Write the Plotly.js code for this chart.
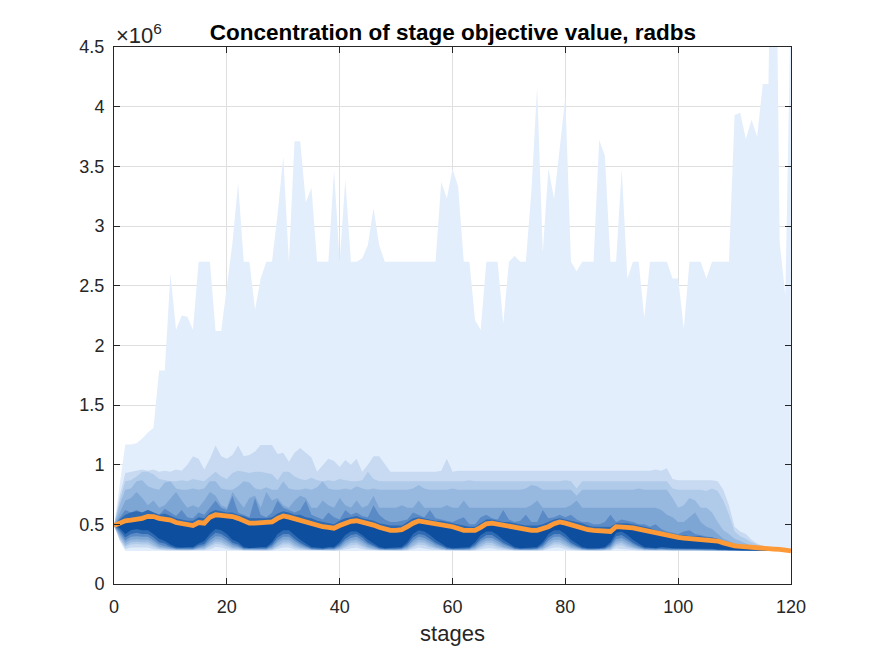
<!DOCTYPE html>
<html>
<head>
<meta charset="utf-8">
<script src="https://cdn.plot.ly/plotly-3.0.1.min.js"></script>
<style>
  html, body { margin: 0; padding: 0; background: #ffffff; }
  #chart { width: 875px; height: 656px; }
</style>
</head>
<body>
<div id="chart"></div>
<script>
// Stage index 0..120
const stages = Array.from({ length: 121 }, (_, i) => i);

// Objective value quantile envelopes (units of 1e6), outermost first.
const qMax = [0.49,0.85,1.17,1.17,1.18,1.22,1.27,1.31,1.79,1.79,
  2.60,2.13,2.25,2.24,2.13,2.70,2.70,2.70,2.12,2.12,
  2.49,2.86,3.36,2.70,2.70,2.30,2.56,2.70,2.70,3.10,
  3.58,2.70,3.71,3.71,3.20,3.32,2.70,2.70,2.70,3.47,
  2.70,3.39,2.70,2.70,2.73,2.84,3.15,2.84,2.70,2.70,
  2.70,2.70,2.70,2.70,2.70,2.70,2.70,2.70,3.37,3.23,
  3.48,3.33,2.70,2.70,2.21,2.13,2.70,2.70,2.70,2.18,
  2.70,2.75,2.70,2.70,3.30,4.17,2.78,3.48,3.23,3.65,
  4.08,2.70,2.62,2.70,2.70,2.70,3.72,3.59,2.70,2.70,
  3.48,2.56,2.70,2.70,2.23,2.70,2.70,2.70,2.70,2.56,
  2.56,2.14,2.70,2.70,2.70,2.56,2.70,2.70,2.70,2.70,
  3.93,3.95,3.73,3.89,3.75,4.19,4.19,7.00,2.86,2.42,5.00];

const qU2 = [0.49,0.74,0.93,0.94,0.95,0.96,0.95,0.96,0.94,0.95,
  0.94,0.96,0.95,1.00,1.07,1.05,0.96,1.05,1.16,1.07,
  1.05,1.08,1.16,1.07,1.08,1.11,1.165,1.165,1.165,1.09,
  1.10,1.025,1.10,1.14,1.10,1.06,0.94,1.00,1.05,1.03,
  0.98,1.04,1.00,1.05,0.94,1.00,1.07,1.07,1.00,0.94,
  0.94,0.94,0.94,0.94,0.94,0.94,0.94,0.94,0.95,1.05,
  0.94,0.95,0.95,0.95,0.95,0.95,0.95,0.95,0.95,0.95,
  0.95,0.95,0.95,0.95,0.95,0.95,0.95,0.95,0.95,0.95,
  0.95,0.95,0.95,0.95,0.95,0.95,0.95,0.95,0.95,0.95,
  0.95,0.95,0.95,0.95,0.95,0.95,0.96,0.95,0.97,0.88,
  0.87,0.87,0.87,0.87,0.87,0.87,0.87,0.86,0.79,0.66,
  0.48,0.44,0.42,0.37,0.34,0.32,0.31,0.30,0.29,0.285,0.278];

const qU3 = [0.49,0.70,0.86,0.87,0.90,0.94,0.94,0.92,0.88,0.87,
  0.86,0.86,0.87,0.86,0.88,0.87,0.86,0.90,0.94,0.90,
  0.88,0.93,0.95,0.94,0.93,0.94,0.94,0.93,0.92,0.87,
  0.94,0.94,0.90,0.88,0.87,0.89,0.87,0.86,0.87,0.86,
  0.88,0.87,0.86,0.86,0.87,0.94,0.88,0.86,0.86,0.86,
  0.86,0.86,0.86,0.86,0.86,0.86,0.86,0.86,0.86,0.86,
  0.86,0.86,0.86,0.87,0.86,0.86,0.86,0.86,0.86,0.86,
  0.86,0.86,0.86,0.86,0.86,0.86,0.86,0.86,0.86,0.86,
  0.87,0.86,0.80,0.86,0.86,0.86,0.86,0.86,0.86,0.86,
  0.86,0.86,0.86,0.86,0.86,0.86,0.86,0.86,0.86,0.80,
  0.79,0.79,0.79,0.79,0.79,0.78,0.80,0.78,0.70,0.58,
  0.44,0.40,0.38,0.35,0.33,0.31,0.30,0.295,0.29,0.283,0.278];

const qU4 = [0.49,0.66,0.79,0.80,0.86,0.87,0.82,0.80,0.79,0.85,
  0.86,0.80,0.79,0.79,0.80,0.79,0.80,0.86,0.86,0.80,
  0.79,0.79,0.82,0.86,0.85,0.80,0.79,0.81,0.79,0.79,
  0.86,0.80,0.79,0.79,0.80,0.79,0.81,0.86,0.80,0.79,
  0.79,0.80,0.79,0.82,0.80,0.79,0.80,0.79,0.79,0.79,
  0.79,0.79,0.79,0.80,0.83,0.80,0.79,0.79,0.79,0.79,
  0.80,0.79,0.79,0.79,0.79,0.79,0.79,0.79,0.79,0.79,
  0.79,0.79,0.79,0.80,0.83,0.82,0.79,0.79,0.79,0.79,
  0.79,0.79,0.74,0.79,0.79,0.79,0.79,0.79,0.79,0.79,
  0.79,0.79,0.79,0.80,0.79,0.79,0.79,0.79,0.79,0.72,
  0.64,0.66,0.72,0.70,0.64,0.64,0.60,0.52,0.45,0.42,
  0.38,0.36,0.34,0.32,0.31,0.30,0.29,0.288,0.285,0.28,0.277];

const qU5 = [0.49,0.60,0.70,0.72,0.77,0.72,0.66,0.70,0.64,0.66,
  0.72,0.77,0.70,0.64,0.66,0.64,0.70,0.77,0.74,0.66,
  0.64,0.77,0.70,0.64,0.72,0.74,0.64,0.77,0.70,0.72,
  0.66,0.64,0.70,0.74,0.72,0.64,0.64,0.70,0.66,0.64,
  0.72,0.66,0.64,0.70,0.64,0.66,0.74,0.64,0.64,0.64,
  0.64,0.66,0.64,0.64,0.70,0.64,0.64,0.64,0.64,0.66,
  0.64,0.64,0.70,0.64,0.64,0.64,0.64,0.64,0.64,0.64,
  0.64,0.64,0.64,0.64,0.66,0.70,0.64,0.64,0.64,0.64,
  0.64,0.66,0.70,0.64,0.64,0.64,0.64,0.64,0.64,0.64,
  0.64,0.64,0.64,0.64,0.64,0.64,0.64,0.62,0.58,0.56,
  0.52,0.52,0.56,0.60,0.52,0.48,0.46,0.42,0.38,0.36,
  0.34,0.33,0.32,0.31,0.30,0.295,0.29,0.285,0.282,0.28,0.277];

const qU6 = [0.49,0.56,0.62,0.60,0.62,0.60,0.62,0.60,0.58,0.63,
  0.60,0.57,0.62,0.56,0.55,0.60,0.58,0.64,0.70,0.64,
  0.62,0.74,0.60,0.58,0.56,0.72,0.58,0.56,0.60,0.70,
  0.64,0.62,0.60,0.62,0.70,0.58,0.56,0.54,0.60,0.56,
  0.54,0.62,0.58,0.60,0.57,0.56,0.66,0.58,0.54,0.52,
  0.52,0.53,0.54,0.60,0.58,0.56,0.62,0.55,0.54,0.53,
  0.52,0.54,0.56,0.50,0.50,0.56,0.58,0.55,0.54,0.62,
  0.54,0.52,0.53,0.58,0.52,0.52,0.62,0.55,0.56,0.58,
  0.56,0.58,0.54,0.52,0.52,0.50,0.50,0.52,0.58,0.52,
  0.54,0.53,0.52,0.50,0.50,0.48,0.50,0.46,0.44,0.43,
  0.42,0.44,0.45,0.42,0.41,0.40,0.39,0.38,0.36,0.34,
  0.33,0.32,0.315,0.31,0.30,0.295,0.29,0.285,0.282,0.279,0.277];

const qU7 = [0.49,0.54,0.58,0.60,0.61,0.60,0.62,0.60,0.58,0.59,
  0.57,0.55,0.54,0.53,0.53,0.56,0.55,0.60,0.62,0.61,
  0.60,0.60,0.58,0.57,0.55,0.55,0.55,0.55,0.56,0.59,
  0.61,0.60,0.58,0.58,0.56,0.55,0.53,0.52,0.51,0.50,
  0.53,0.55,0.56,0.57,0.55,0.54,0.53,0.51,0.50,0.49,
  0.49,0.49,0.52,0.55,0.56,0.55,0.54,0.53,0.53,0.52,
  0.51,0.50,0.49,0.48,0.48,0.51,0.54,0.54,0.53,0.52,
  0.52,0.51,0.50,0.49,0.49,0.49,0.50,0.52,0.54,0.55,
  0.54,0.53,0.52,0.51,0.49,0.48,0.48,0.48,0.48,0.51,
  0.51,0.51,0.50,0.49,0.48,0.47,0.45,0.44,0.43,0.42,
  0.41,0.41,0.40,0.40,0.40,0.39,0.39,0.38,0.36,0.34,
  0.33,0.32,0.315,0.31,0.30,0.295,0.29,0.285,0.282,0.279,0.277];

const qU8 = [0.49,0.515,0.535,0.54,0.545,0.555,0.57,0.57,0.555,0.55,
  0.54,0.52,0.51,0.495,0.495,0.52,0.515,0.565,0.585,0.58,
  0.578,0.57,0.555,0.54,0.515,0.515,0.515,0.515,0.525,0.555,
  0.575,0.565,0.55,0.545,0.53,0.515,0.50,0.485,0.48,0.472,
  0.495,0.515,0.53,0.535,0.525,0.51,0.50,0.48,0.465,0.455,
  0.455,0.46,0.485,0.515,0.533,0.525,0.515,0.505,0.505,0.495,
  0.485,0.47,0.455,0.455,0.455,0.48,0.51,0.515,0.505,0.495,
  0.49,0.48,0.47,0.455,0.455,0.455,0.465,0.485,0.51,0.525,
  0.515,0.50,0.49,0.475,0.46,0.455,0.45,0.445,0.445,0.485,
  0.485,0.48,0.475,0.465,0.455,0.44,0.425,0.415,0.405,0.397,
  0.395,0.39,0.385,0.383,0.38,0.376,0.374,0.364,0.35,0.335,
  0.325,0.318,0.312,0.307,0.30,0.294,0.289,0.284,0.281,0.278,0.277];

const qL8 = [0.49,0.47,0.42,0.45,0.46,0.45,0.45,0.42,0.38,0.36,
  0.33,0.31,0.305,0.31,0.31,0.34,0.36,0.42,0.46,0.45,
  0.42,0.37,0.35,0.31,0.30,0.305,0.31,0.31,0.35,0.42,
  0.45,0.45,0.41,0.37,0.34,0.31,0.305,0.30,0.31,0.31,
  0.35,0.41,0.44,0.44,0.41,0.37,0.34,0.31,0.30,0.30,
  0.305,0.31,0.35,0.42,0.45,0.44,0.41,0.37,0.34,0.31,
  0.30,0.30,0.305,0.31,0.35,0.41,0.44,0.44,0.41,0.37,
  0.34,0.31,0.30,0.30,0.305,0.31,0.35,0.42,0.45,0.45,
  0.42,0.37,0.34,0.31,0.30,0.30,0.30,0.31,0.35,0.43,
  0.44,0.41,0.37,0.34,0.31,0.305,0.30,0.31,0.305,0.30,
  0.30,0.30,0.30,0.30,0.30,0.295,0.295,0.29,0.29,0.285,
  0.285,0.283,0.282,0.281,0.28,0.279,0.278,0.277,0.277,0.277,0.277];

const qL7 = [0.49,0.45,0.39,0.42,0.43,0.42,0.42,0.39,0.35,0.34,
  0.315,0.30,0.30,0.30,0.30,0.325,0.335,0.39,0.43,0.42,
  0.39,0.345,0.33,0.30,0.295,0.30,0.30,0.30,0.33,0.39,
  0.42,0.42,0.38,0.345,0.32,0.30,0.298,0.295,0.30,0.30,
  0.33,0.38,0.41,0.42,0.39,0.345,0.32,0.30,0.295,0.295,
  0.298,0.30,0.33,0.39,0.42,0.41,0.38,0.345,0.32,0.30,
  0.295,0.295,0.298,0.30,0.33,0.38,0.41,0.41,0.38,0.345,
  0.32,0.30,0.295,0.295,0.298,0.30,0.33,0.39,0.42,0.42,
  0.39,0.345,0.32,0.30,0.295,0.295,0.295,0.30,0.33,0.40,
  0.41,0.38,0.345,0.32,0.30,0.298,0.295,0.30,0.297,0.295,
  0.295,0.294,0.294,0.293,0.292,0.29,0.29,0.286,0.286,0.283,
  0.283,0.281,0.28,0.279,0.279,0.278,0.277,0.277,0.277,0.277,0.277];

const qL6 = [0.49,0.43,0.365,0.395,0.40,0.395,0.395,0.365,0.33,0.32,
  0.305,0.295,0.295,0.295,0.295,0.31,0.32,0.365,0.40,0.395,
  0.365,0.33,0.315,0.295,0.29,0.295,0.295,0.295,0.315,0.365,
  0.395,0.395,0.36,0.33,0.31,0.295,0.292,0.29,0.295,0.295,
  0.315,0.36,0.385,0.395,0.365,0.33,0.31,0.295,0.29,0.29,
  0.292,0.295,0.315,0.365,0.395,0.385,0.36,0.33,0.31,0.295,
  0.29,0.29,0.292,0.295,0.315,0.36,0.385,0.385,0.36,0.33,
  0.31,0.295,0.29,0.29,0.292,0.295,0.315,0.365,0.395,0.395,
  0.365,0.33,0.31,0.295,0.29,0.29,0.29,0.295,0.315,0.375,
  0.385,0.36,0.33,0.31,0.295,0.292,0.29,0.295,0.29,0.29,
  0.29,0.289,0.289,0.288,0.287,0.286,0.286,0.283,0.283,0.281,
  0.281,0.279,0.279,0.278,0.278,0.277,0.277,0.277,0.277,0.277,0.277];

const qL5 = [0.49,0.41,0.345,0.37,0.375,0.37,0.37,0.345,0.315,0.308,
  0.298,0.29,0.29,0.29,0.29,0.302,0.308,0.345,0.375,0.37,
  0.345,0.315,0.305,0.29,0.287,0.29,0.29,0.29,0.303,0.345,
  0.37,0.37,0.34,0.315,0.30,0.29,0.288,0.287,0.29,0.29,
  0.303,0.34,0.365,0.37,0.345,0.315,0.30,0.29,0.287,0.287,
  0.288,0.29,0.303,0.345,0.37,0.365,0.34,0.315,0.30,0.29,
  0.287,0.287,0.288,0.29,0.303,0.34,0.365,0.365,0.34,0.315,
  0.30,0.29,0.287,0.287,0.288,0.29,0.303,0.345,0.37,0.37,
  0.345,0.315,0.30,0.29,0.287,0.287,0.287,0.29,0.303,0.355,
  0.365,0.34,0.315,0.30,0.29,0.288,0.287,0.29,0.287,0.286,
  0.286,0.285,0.285,0.285,0.284,0.283,0.283,0.281,0.281,0.279,
  0.279,0.278,0.278,0.277,0.277,0.277,0.277,0.277,0.277,0.277,0.277];

const qL4 = [0.49,0.395,0.325,0.35,0.355,0.35,0.35,0.325,0.303,0.298,
  0.292,0.286,0.286,0.286,0.286,0.293,0.297,0.325,0.355,0.35,
  0.325,0.303,0.296,0.286,0.284,0.286,0.286,0.286,0.294,0.325,
  0.35,0.35,0.32,0.303,0.293,0.286,0.285,0.284,0.286,0.286,
  0.294,0.32,0.345,0.35,0.325,0.303,0.293,0.286,0.284,0.284,
  0.285,0.286,0.294,0.325,0.35,0.345,0.32,0.303,0.293,0.286,
  0.284,0.284,0.285,0.286,0.294,0.32,0.345,0.345,0.32,0.303,
  0.293,0.286,0.284,0.284,0.285,0.286,0.294,0.325,0.35,0.35,
  0.325,0.303,0.293,0.286,0.284,0.284,0.284,0.286,0.294,0.335,
  0.345,0.32,0.303,0.293,0.286,0.285,0.284,0.286,0.284,0.283,
  0.283,0.282,0.282,0.282,0.281,0.281,0.281,0.279,0.279,0.278,
  0.278,0.277,0.277,0.277,0.277,0.277,0.277,0.277,0.277,0.277,0.277];

const qL3 = [0.49,0.38,0.31,0.33,0.335,0.33,0.33,0.31,0.293,0.29,
  0.286,0.282,0.282,0.282,0.282,0.286,0.289,0.31,0.335,0.33,
  0.31,0.293,0.289,0.282,0.281,0.282,0.282,0.282,0.287,0.31,
  0.33,0.33,0.305,0.293,0.287,0.282,0.281,0.281,0.282,0.282,
  0.287,0.305,0.325,0.33,0.31,0.293,0.287,0.282,0.281,0.281,
  0.281,0.282,0.287,0.31,0.33,0.325,0.305,0.293,0.287,0.282,
  0.281,0.281,0.281,0.282,0.287,0.305,0.325,0.325,0.305,0.293,
  0.287,0.282,0.281,0.281,0.281,0.282,0.287,0.31,0.33,0.33,
  0.31,0.293,0.287,0.282,0.281,0.281,0.281,0.282,0.287,0.32,
  0.325,0.305,0.293,0.287,0.282,0.281,0.281,0.282,0.281,0.28,
  0.28,0.28,0.28,0.28,0.279,0.279,0.279,0.278,0.278,0.277,
  0.277,0.277,0.277,0.277,0.277,0.277,0.277,0.277,0.277,0.277,0.277];

const qL2 = [0.49,0.37,0.292,0.305,0.31,0.305,0.305,0.292,0.285,0.283,
  0.281,0.279,0.279,0.279,0.279,0.281,0.282,0.292,0.31,0.305,
  0.292,0.284,0.283,0.279,0.279,0.279,0.279,0.279,0.281,0.292,
  0.305,0.305,0.29,0.284,0.281,0.279,0.279,0.278,0.279,0.279,
  0.281,0.29,0.30,0.305,0.292,0.284,0.281,0.279,0.278,0.278,
  0.279,0.279,0.281,0.292,0.305,0.30,0.29,0.284,0.281,0.279,
  0.278,0.278,0.279,0.279,0.281,0.29,0.30,0.30,0.29,0.284,
  0.281,0.279,0.278,0.278,0.279,0.279,0.281,0.292,0.305,0.305,
  0.292,0.284,0.281,0.279,0.278,0.278,0.278,0.279,0.281,0.30,
  0.30,0.29,0.284,0.281,0.279,0.278,0.278,0.279,0.278,0.278,
  0.277,0.277,0.277,0.277,0.277,0.277,0.277,0.277,0.277,0.277,
  0.277,0.277,0.277,0.277,0.277,0.277,0.277,0.277,0.277,0.277,0.277];

const qMin = [0.49,0.36,0.276,0.276,0.276,0.276,0.276,0.276,0.276,0.276,
  0.276,0.276,0.276,0.276,0.276,0.276,0.276,0.276,0.276,0.276,
  0.276,0.276,0.276,0.276,0.276,0.276,0.276,0.276,0.276,0.276,
  0.276,0.276,0.276,0.276,0.276,0.276,0.276,0.276,0.276,0.276,
  0.276,0.276,0.276,0.276,0.276,0.276,0.276,0.276,0.276,0.276,
  0.276,0.276,0.276,0.276,0.276,0.276,0.276,0.276,0.276,0.276,
  0.276,0.276,0.276,0.276,0.276,0.276,0.276,0.276,0.276,0.276,
  0.276,0.276,0.276,0.276,0.276,0.276,0.276,0.276,0.276,0.276,
  0.276,0.276,0.276,0.276,0.276,0.276,0.276,0.276,0.276,0.276,
  0.276,0.276,0.276,0.276,0.276,0.276,0.276,0.276,0.276,0.276,
  0.276,0.276,0.276,0.276,0.276,0.276,0.276,0.276,0.276,0.276,
  0.276,0.276,0.276,0.276,0.276,0.276,0.276,0.276,0.276,0.276,0.276];

// Mean objective value per stage (units of 1e6)
const meanValue = [0.49,0.51,0.53,0.535,0.54,0.55,0.567,0.565,0.55,0.545,
  0.535,0.515,0.505,0.49,0.49,0.515,0.51,0.56,0.58,0.575,
  0.573,0.565,0.55,0.535,0.51,0.51,0.51,0.51,0.52,0.55,
  0.57,0.56,0.545,0.54,0.525,0.51,0.495,0.48,0.475,0.468,
  0.49,0.51,0.525,0.53,0.52,0.505,0.494,0.475,0.46,0.45,
  0.45,0.455,0.48,0.51,0.528,0.52,0.51,0.50,0.50,0.49,
  0.48,0.465,0.45,0.45,0.45,0.475,0.505,0.51,0.50,0.49,
  0.486,0.475,0.465,0.45,0.45,0.45,0.46,0.48,0.505,0.52,
  0.51,0.495,0.486,0.47,0.455,0.45,0.445,0.44,0.44,0.48,
  0.48,0.475,0.47,0.46,0.45,0.435,0.42,0.41,0.40,0.392,
  0.39,0.385,0.38,0.378,0.376,0.372,0.37,0.36,0.345,0.33,
  0.32,0.315,0.31,0.305,0.30,0.298,0.295,0.293,0.29,0.285,0.277];

const yTickVals = [0, 0.5, 1, 1.5, 2, 2.5, 3, 3.5, 4, 4.5];
const yTickText = ['0', '0.5', '1', '1.5', '2', '2.5', '3', '3.5', '4', '4.5'];
const xTickVals = [0, 20, 40, 60, 80, 100, 120];

// Nested bands: [upper, lower, fill], drawn from the widest to the narrowest
const bands = [
  [qMax, qMin, '#e3eefc'],
  [qU2, qL2, '#c8daf1'],
  [qU3, qL3, '#b0caea'],
  [qU4, qL4, '#97b8df'],
  [qU5, qL5, '#7ea6d5'],
  [qU6, qL6, '#5b8bc6'],
  [qU7, qL7, '#2f6bb3'],
  [qU8, qL8, '#0d4e9e']
];

const backX = stages.slice().reverse();
const traces = bands.map(([upper, lower, color]) => ({
  type: 'scatter',
  mode: 'lines',
  x: stages.concat(backX),
  y: upper.concat(lower.slice().reverse()),
  fill: 'toself',
  fillcolor: color,
  line: { width: 0, color: color },
  hoverinfo: 'skip',
  showlegend: false
}));

traces.push({
  type: 'scatter',
  mode: 'lines',
  x: stages,
  y: meanValue,
  line: { color: '#fd9a37', width: 4.8 },
  showlegend: false
});

const FONT = 'Liberation Sans, Arial, Helvetica, sans-serif';
const INK = '#262626';

const layout = {
  width: 875,
  height: 656,
  margin: { l: 114, r: 84, t: 47, b: 72 },
  paper_bgcolor: '#ffffff',
  plot_bgcolor: '#ffffff',
  font: { family: FONT, color: INK, size: 18 },
  title: {
    text: '<b>Concentration of stage objective value, radbs</b>',
    font: { family: FONT, size: 22.5, color: '#000000' },
    x: 0.5176, xanchor: 'center',
    y: 0.951, yanchor: 'middle'
  },
  xaxis: {
    range: [0, 120],
    tickvals: xTickVals,
    ticks: 'inside', ticklen: 6, tickwidth: 1, tickcolor: INK,
    ticklabelstandoff: 6,
    showline: true, linecolor: INK, linewidth: 1, mirror: 'ticks',
    showgrid: true, gridcolor: '#dfdfdf', gridwidth: 1,
    zeroline: false,
    tickfont: { family: FONT, size: 18, color: INK },
    title: { text: 'stages', font: { family: FONT, size: 22, color: INK }, standoff: 10 }
  },
  yaxis: {
    range: [0, 4.5],
    tickvals: yTickVals,
    ticktext: yTickText,
    ticks: 'inside', ticklen: 6, tickwidth: 1, tickcolor: INK,
    ticklabelstandoff: 5,
    showline: true, linecolor: INK, linewidth: 1, mirror: 'ticks',
    showgrid: true, gridcolor: '#dfdfdf', gridwidth: 1,
    zeroline: false,
    tickfont: { family: FONT, size: 18, color: INK }
  },
  annotations: [{
    text: '\u00d710<sup>6</sup>',
    xref: 'paper', yref: 'paper',
    x: 0, y: 1, xanchor: 'left', yanchor: 'bottom',
    yshift: -3,
    showarrow: false,
    font: { family: FONT, size: 22, color: INK }
  }]
};

Plotly.newPlot('chart', traces, layout, { staticPlot: true, displayModeBar: false });
</script>
</body>
</html>
